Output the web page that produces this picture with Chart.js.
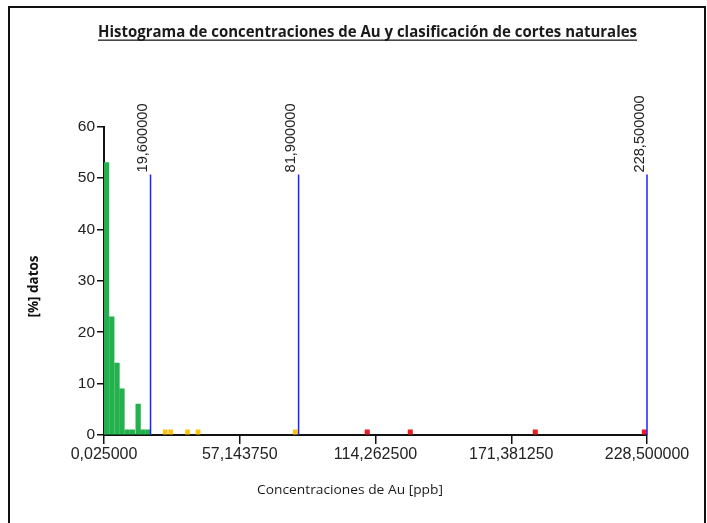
<!DOCTYPE html>
<html><head><meta charset="utf-8">
<script src="https://cdn.jsdelivr.net/npm/chart.js@4.4.0/dist/chart.umd.min.js"></script>
<style>html,body{margin:0;padding:0;background:#fff;} #wrap{position:relative;width:707px;height:523px;}</style>
</head><body><div id="wrap"><canvas id="c" width="707" height="523"></canvas></div>
<script>
const chartTitle = 'Histograma de concentraciones de Au y clasificación de cortes naturales';
const xAxisTitle = 'Concentraciones de Au [ppb]';
const yAxisTitle = '[%] datos';
const greenBins = [1.1, 3.3, 5.5, 7.6, 9.8, 12.0, 14.4, 16.4, 18.5];
const greenValues = [53, 23, 14, 9, 1, 1, 6, 1, 1];
const yellowBins = [25.8, 28.1, 35.2, 39.6, 80.5];
const yellowValues = [1, 1, 1, 1, 1];
const redBins = [110.8, 128.9, 181.5, 227.4];
const redValues = [1, 1, 1, 1];
const cutValues = [19.6, 81.9, 228.5];
const cutLabels = ['19,600000', '81,900000', '228,500000'];
const cutHeight = 50.7;
const xTickValues = [0.025, 57.14375, 114.2625, 171.38125, 228.5];
const xTickLabels = ['0,025000', '57,143750', '114,262500', '171,381250', '228,500000'];
const yTickValues = [0, 10, 20, 30, 40, 50, 60];
const yTickLabels = ['0', '10', '20', '30', '40', '50', '60'];

function pts(xs, ys) { return xs.map((x, i) => ({ x: x, y: ys[i] })); }

const datasets = [
  { type: 'bar', data: pts(greenBins, greenValues), backgroundColor: '#22B14C', barThickness: 4.6, order: 3 },
  { type: 'bar', data: pts(yellowBins, yellowValues), backgroundColor: '#FFC20E', barThickness: 4, order: 3 },
  { type: 'bar', data: pts(redBins, redValues), backgroundColor: '#ED1C24', barThickness: 4.4, order: 3 }
];
cutValues.forEach(v => {
  datasets.push({ type: 'line', data: [{ x: v, y: 0 }, { x: v, y: cutHeight }], borderColor: '#2020FF', borderWidth: 1.5, pointRadius: 0, clip: 4, order: 1 });
});

function fitText(ctx, text, cx, cy, targetW, font, color, rot) {
  ctx.save();
  ctx.font = font;
  const w = ctx.measureText(text).width;
  ctx.translate(cx, cy);
  if (rot) ctx.rotate(rot);
  ctx.scale(targetW / w, 1);
  ctx.textAlign = 'center';
  ctx.textBaseline = 'alphabetic';
  ctx.fillStyle = color;
  ctx.fillText(text, 0, 0);
  ctx.restore();
}

const decor = {
  id: 'decor',
  afterDraw(chart) {
    const ctx = chart.ctx;
    const xs = chart.scales.x, ys = chart.scales.y;
    fitText(ctx, chartTitle, 367.5, 36.5, 539, 'bold 16px "Open Sans"', '#1a1a1a', 0);
    ctx.save();
    ctx.fillStyle = '#1a1a1a';
    ctx.fillRect(98, 39.5, 539, 1.3);
    ctx.restore();
    fitText(ctx, xAxisTitle, 350, 494, 186, '13px "Open Sans"', '#1a1a1a', 0);
    fitText(ctx, yAxisTitle, 37.5, 286.5, 62, 'bold 14px "Open Sans"', '#111', -Math.PI / 2);
    cutValues.forEach((v, i) => {
      const px = xs.getPixelForValue(v);
      const py = ys.getPixelForValue(cutHeight);
      ctx.save();
      ctx.translate(px - 3.5, py - 2);
      ctx.rotate(-Math.PI / 2);
      ctx.font = '14.6px "Liberation Sans"';
      ctx.fillStyle = '#222';
      ctx.textAlign = 'left';
      ctx.textBaseline = 'alphabetic';
      ctx.fillText(cutLabels[i], 0, 0);
      ctx.restore();
    });
    ctx.save();
    ctx.strokeStyle = '#111';
    ctx.lineWidth = 2;
    ctx.beginPath();
    ctx.moveTo(9, 523);
    ctx.lineTo(9, 7);
    ctx.lineTo(705, 7);
    ctx.lineTo(705, 523);
    ctx.stroke();
    ctx.restore();
  }
};

new Chart(document.getElementById('c'), {
  type: 'bar',
  data: { datasets: datasets },
  options: {
    responsive: false,
    animation: false,
    events: [],
    layout: { padding: { left: 0, top: 126.7, right: 60, bottom: 0 } },
    datasets: { bar: { grouped: false } },
    plugins: { legend: { display: false }, tooltip: { enabled: false }, title: { display: false } },
    scales: {
      x: {
        type: 'linear', min: 0.025, max: 228.5, offset: false,
        afterBuildTicks: s => { s.ticks = xTickValues.map(v => ({ value: v })); },
        afterFit: s => { s.height = 88; },
        ticks: { autoSkip: false, maxRotation: 0, padding: 1, color: '#222', font: { family: '"Liberation Sans"', size: 16 },
          callback: (v, i) => xTickLabels[i] },
        grid: { offset: false, drawOnChartArea: false, drawTicks: true, tickLength: 9, color: '#111', lineWidth: 1.5 },
        border: { display: true, color: '#111', width: 2 }
      },
      y: {
        type: 'linear', min: 0, max: 60,
        afterBuildTicks: s => { s.ticks = yTickValues.map(v => ({ value: v })); },
        afterFit: s => { s.width = 104; },
        ticks: { autoSkip: false, padding: 2, color: '#222', font: { family: '"Liberation Sans"', size: 15.5 },
          callback: (v, i) => yTickLabels[i] },
        grid: { offset: false, drawOnChartArea: false, drawTicks: true, tickLength: 7, color: '#111', lineWidth: 1.5 },
        border: { display: true, color: '#111', width: 2 }
      }
    }
  },
  plugins: [decor]
});
</script>
</body></html>
